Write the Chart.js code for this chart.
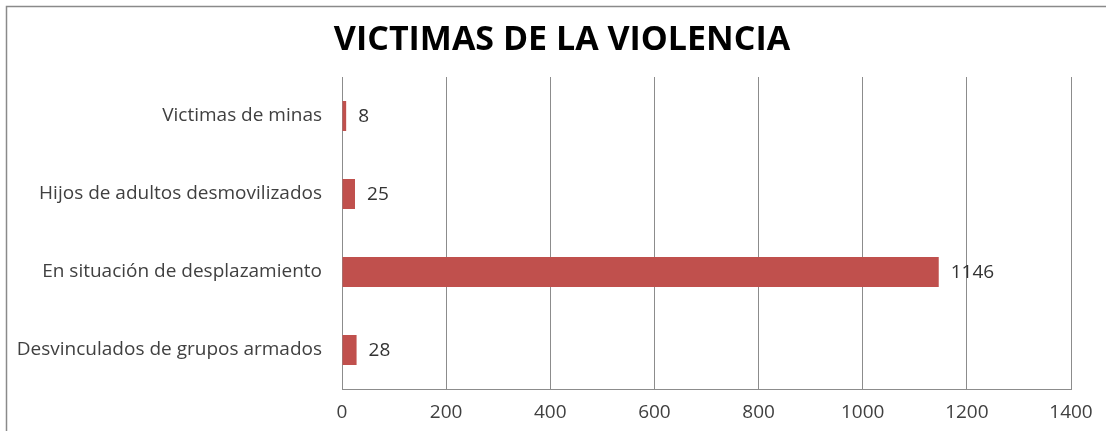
<!DOCTYPE html>
<html>
<head>
<meta charset="utf-8">
<script src="https://cdn.jsdelivr.net/npm/chart.js@4"></script>
<style>
  html, body { margin: 0; padding: 0; background: #fff; }
  #wrap { width: 1106px; height: 431px; }
</style>
</head>
<body>
<div id="wrap"><canvas id="victimsChart" width="1106" height="431"></canvas></div>
<script>
// Chart data
const categories = [
    'Victimas de minas',
    'Hijos de adultos desmovilizados',
    'En situación de desplazamiento',
    'Desvinculados de grupos armados'
];
const victimCounts = [8, 25, 1146, 28];
const axisMin = 0;
const axisMax = 1400;
const axisStep = 200;
const chartTitle = 'VICTIMAS DE LA VIOLENCIA';

const FONT = "'Open Sans', sans-serif";

// Thin grey frame around the chart (top and left edges visible) + title
const framePlugin = {
    id: 'frame',
    beforeDraw(chart) {
        const ctx = chart.ctx;
        ctx.save();
        ctx.fillStyle = '#ffffff';
        ctx.fillRect(0, 0, chart.width, chart.height);
        ctx.strokeStyle = '#8a8a8a';
        ctx.lineWidth = 1.5;
        ctx.beginPath();
        ctx.moveTo(chart.width, 6.5);
        ctx.lineTo(6.5, 6.5);
        ctx.lineTo(6.5, chart.height);
        ctx.stroke();

        ctx.font = `bold 34px ${FONT}`;
        ctx.fillStyle = '#000000';
        ctx.textAlign = 'center';
        ctx.textBaseline = 'middle';
        ctx.fillText(chartTitle, 562, 40);
        ctx.restore();
    }
};

// Value labels to the right of each bar
const valueLabels = {
    id: 'valueLabels',
    afterDatasetsDraw(chart) {
        const ctx = chart.ctx;
        const meta = chart.getDatasetMeta(0);
        const data = chart.data.datasets[0].data;
        ctx.save();
        ctx.font = `19px ${FONT}`;
        ctx.fillStyle = '#333333';
        ctx.textAlign = 'left';
        ctx.textBaseline = 'middle';
        meta.data.forEach((bar, i) => {
            ctx.fillText(String(data[i]), bar.x + 12, bar.y + 1);
        });
        ctx.restore();
    }
};

function createVictimsChart() {
    const canvas = document.getElementById('victimsChart');
    if (!canvas) return null;

    return new Chart(canvas, {
        type: 'bar',
        data: {
            labels: categories,
            datasets: [{
                data: victimCounts,
                backgroundColor: '#c0504d',
                borderWidth: 0,
                barPercentage: 0.385,
                categoryPercentage: 1
            }]
        },
        options: {
            indexAxis: 'y',
            responsive: false,
            animation: false,
            layout: {
                padding: { left: 8, right: 35, top: 77, bottom: 0 }
            },
            scales: {
                x: {
                    min: axisMin,
                    max: axisMax,
                    grid: {
                        color: '#8c8c8c',
                        lineWidth: 1,
                        drawTicks: false
                    },
                    border: { display: true, color: '#8c8c8c', width: 1 },
                    ticks: {
                        stepSize: axisStep,
                        padding: 12,
                        color: '#404040',
                        font: { family: FONT, size: 19 },
                        callback: (value) => String(value)
                    },
                    afterFit(scale) { scale.height = 42; }
                },
                y: {
                    grid: { display: false, drawTicks: false },
                    border: { display: true, color: '#8c8c8c', width: 1 },
                    ticks: {
                        padding: 20,
                        color: '#404040',
                        font: { family: FONT, size: 19 }
                    },
                    afterFit(scale) { scale.width = 334; }
                }
            },
            plugins: {
                legend: { display: false },
                tooltip: { enabled: false },
                title: { display: false }
            }
        },
        plugins: [framePlugin, valueLabels]
    });
}

createVictimsChart();
</script>
</body>
</html>
